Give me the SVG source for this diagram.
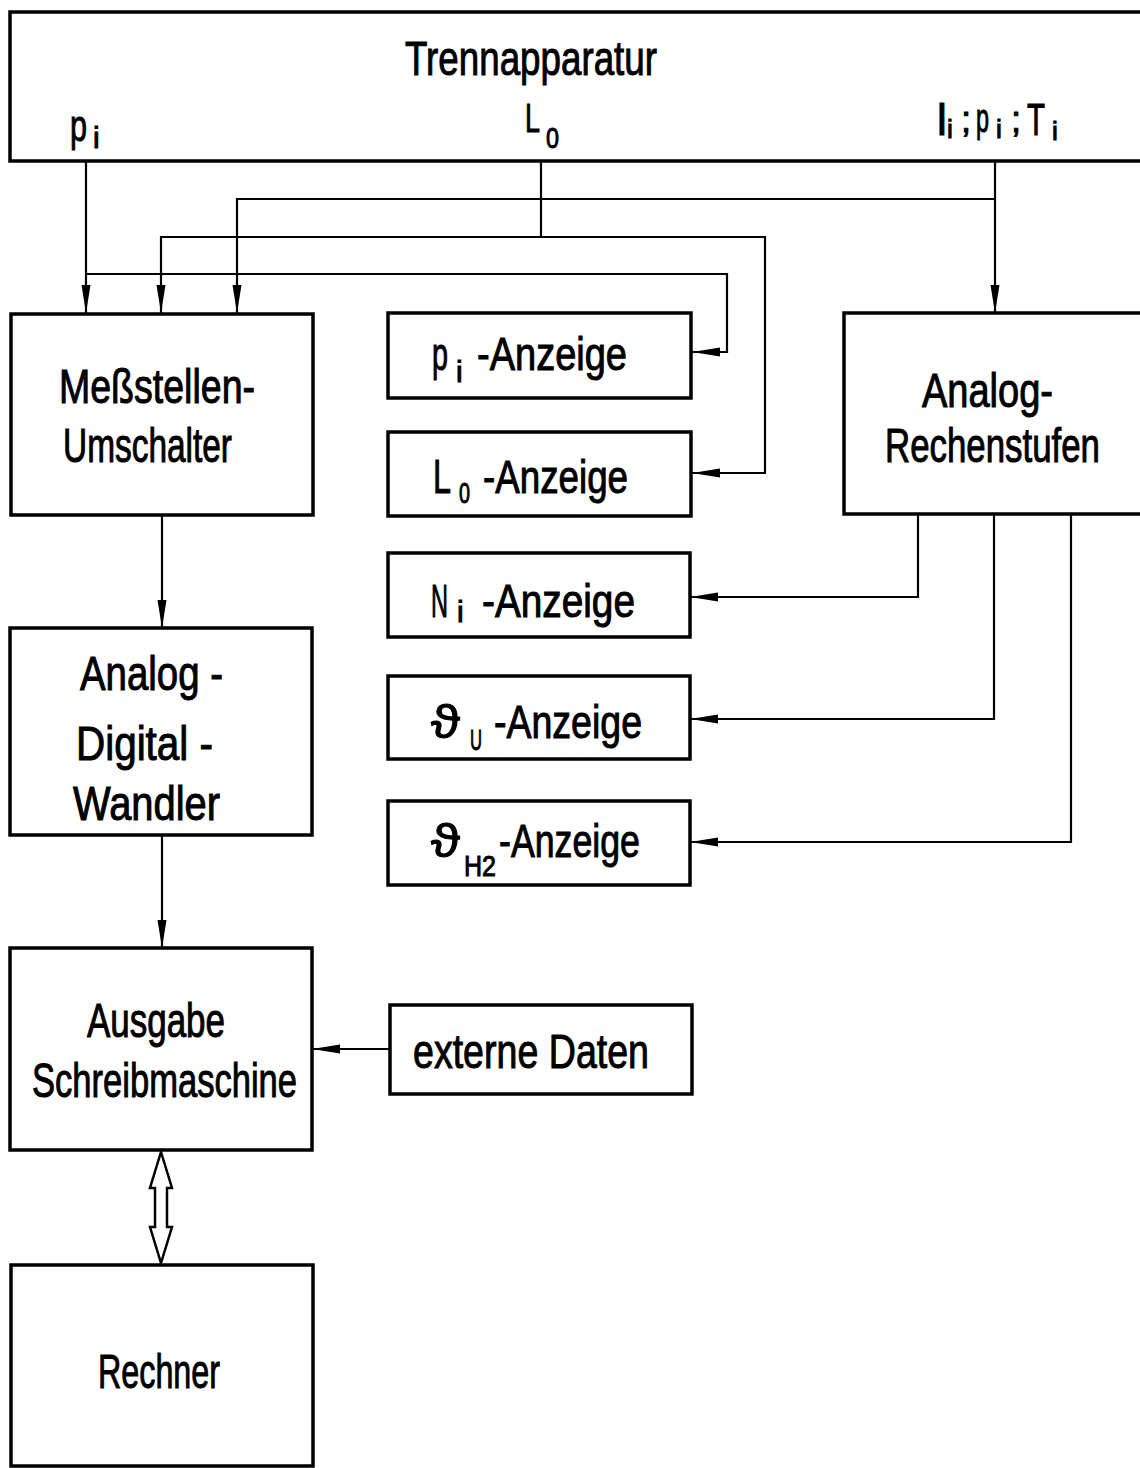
<svg xmlns="http://www.w3.org/2000/svg" width="1140" height="1468" viewBox="0 0 1140 1468">
<style>
  .box { fill: #fff; stroke: #000; stroke-width: 3.5; }
  .ln { fill: none; stroke: #000; stroke-width: 2.2; }
  text { font-family: "Liberation Sans", "DejaVu Sans", Arial, sans-serif; fill: #000; stroke: #000; stroke-width: 1; font-size: 48px; }
  .a { font-size: 46px; }
  .sub { font-size: 30px; }
</style>
<defs>
  <marker id="ah" markerUnits="userSpaceOnUse" markerWidth="30" markerHeight="12" viewBox="0 0 30 12" refX="28" refY="6" orient="auto">
    <path d="M28,6 L0,1.5 L0,10.5 Z" fill="#000"/>
  </marker>
</defs>
<rect width="1140" height="1468" fill="#fff"/>

<g id="trennapparatur">
  <rect class="box" x="10" y="12" width="1132" height="149"/>
  <text x="405" y="75" font-size="50" textLength="252" lengthAdjust="spacingAndGlyphs">Trennapparatur</text>
  <text><tspan x="70" y="141" font-size="44" textLength="17" lengthAdjust="spacingAndGlyphs">p</tspan><tspan x="93" y="148" class="sub">i</tspan></text>
  <text><tspan x="525" y="132" font-size="40" textLength="15" lengthAdjust="spacingAndGlyphs">L</tspan><tspan x="546" y="148" class="sub" textLength="13" lengthAdjust="spacingAndGlyphs">0</tspan></text>
  <text><tspan x="937" y="135" font-size="44">l</tspan><tspan x="947" y="138" font-size="26">i</tspan><tspan x="961" y="132" font-size="36">;</tspan><tspan x="976" y="132" font-size="40" textLength="13" lengthAdjust="spacingAndGlyphs">p</tspan><tspan x="996" y="138" font-size="26">i</tspan><tspan x="1011" y="132" font-size="36">;</tspan><tspan x="1027" y="135" font-size="44" textLength="18" lengthAdjust="spacingAndGlyphs">T</tspan><tspan x="1052" y="140" font-size="26">i</tspan></text>
</g>

<g id="messstellen">
  <rect class="box" x="11" y="314" width="302" height="201"/>
  <text x="59" y="403" textLength="196" lengthAdjust="spacingAndGlyphs">Meßstellen-</text>
  <text x="63" y="462" textLength="169" lengthAdjust="spacingAndGlyphs">Umschalter</text>
</g>

<g id="ad-wandler">
  <rect class="box" x="10" y="628" width="302" height="207"/>
  <text x="80" y="690" textLength="143" lengthAdjust="spacingAndGlyphs">Analog -</text>
  <text x="76" y="760" textLength="137" lengthAdjust="spacingAndGlyphs">Digital -</text>
  <text x="73" y="820" textLength="147" lengthAdjust="spacingAndGlyphs">Wandler</text>
</g>

<g id="ausgabe">
  <rect class="box" x="10" y="948" width="302" height="202"/>
  <text x="87" y="1037" textLength="138" lengthAdjust="spacingAndGlyphs">Ausgabe</text>
  <text x="32" y="1097" textLength="265" lengthAdjust="spacingAndGlyphs">Schreibmaschine</text>
</g>

<g id="rechner">
  <rect class="box" x="11" y="1265" width="302" height="201"/>
  <text x="98" y="1388" textLength="122" lengthAdjust="spacingAndGlyphs">Rechner</text>
</g>

<g id="pi-anzeige">
  <rect class="box" x="388" y="313" width="303" height="85"/>
  <text class="a"><tspan x="432" y="370" textLength="16" lengthAdjust="spacingAndGlyphs">p</tspan><tspan x="456" y="382" class="sub">i </tspan><tspan x="477" y="370" textLength="150" lengthAdjust="spacingAndGlyphs">-Anzeige</tspan></text>
</g>

<g id="l0-anzeige">
  <rect class="box" x="388" y="432" width="303" height="84"/>
  <text class="a"><tspan x="433" y="493" font-size="48" textLength="18" lengthAdjust="spacingAndGlyphs">L</tspan><tspan x="459" y="503" class="sub" textLength="11" lengthAdjust="spacingAndGlyphs">0</tspan><tspan x="483" y="493" textLength="145" lengthAdjust="spacingAndGlyphs">-Anzeige</tspan></text>
</g>

<g id="ni-anzeige">
  <rect class="box" x="388" y="553" width="302" height="84"/>
  <text class="a"><tspan x="431" y="617" textLength="17" lengthAdjust="spacingAndGlyphs">N</tspan><tspan x="457" y="622" class="sub">i </tspan><tspan x="482" y="617" textLength="153" lengthAdjust="spacingAndGlyphs">-Anzeige</tspan></text>
</g>

<g id="thetau-anzeige">
  <rect class="box" x="388" y="676" width="302" height="83"/>
  <text class="a"><tspan x="431" y="738" textLength="29" lengthAdjust="spacingAndGlyphs">ϑ</tspan><tspan x="470" y="750" class="sub" textLength="12" lengthAdjust="spacingAndGlyphs">U</tspan><tspan x="494" y="738" textLength="148" lengthAdjust="spacingAndGlyphs">-Anzeige</tspan></text>
</g>

<g id="thetah2-anzeige">
  <rect class="box" x="388" y="801" width="302" height="84"/>
  <text class="a"><tspan x="431" y="857" textLength="29" lengthAdjust="spacingAndGlyphs">ϑ</tspan><tspan x="464" y="876" class="sub" textLength="32" lengthAdjust="spacingAndGlyphs">H2</tspan><tspan x="499" y="857" textLength="141" lengthAdjust="spacingAndGlyphs">-Anzeige</tspan></text>
</g>

<g id="externe-daten">
  <rect class="box" x="390" y="1005" width="302" height="89"/>
  <text x="413" y="1068" textLength="236" lengthAdjust="spacingAndGlyphs">externe  Daten</text>
</g>

<g id="rechenstufen">
  <rect class="box" x="844" y="313" width="298" height="201"/>
  <text x="922" y="407" textLength="131" lengthAdjust="spacingAndGlyphs">Analog-</text>
  <text x="885" y="462" textLength="215" lengthAdjust="spacingAndGlyphs">Rechenstufen</text>
</g>

<g id="connectors">
  <path class="ln" d="M86,161 V313" marker-end="url(#ah)"/>
  <path class="ln" d="M86,274 H727 V352 H692" marker-end="url(#ah)"/>
  <path class="ln" d="M541,161 V237"/>
  <path class="ln" d="M541,237 H161 V313" marker-end="url(#ah)"/>
  <path class="ln" d="M541,237 H765 V473 H692" marker-end="url(#ah)"/>
  <path class="ln" d="M995,161 V313" marker-end="url(#ah)"/>
  <path class="ln" d="M995,199 H237 V313" marker-end="url(#ah)"/>
  <path class="ln" d="M162,515 V628" marker-end="url(#ah)"/>
  <path class="ln" d="M162,835 V948" marker-end="url(#ah)"/>
  <path class="ln" d="M390,1049 H312" marker-end="url(#ah)"/>
  <path class="ln" d="M918,514 V597 H690" marker-end="url(#ah)"/>
  <path class="ln" d="M994,514 V719 H690" marker-end="url(#ah)"/>
  <path class="ln" d="M1071,514 V842 H690" marker-end="url(#ah)"/>
  <polygon points="161,1152 172,1188 167,1188 167,1227 172,1227 161,1263 150,1227 155,1227 155,1188 150,1188" fill="#fff" stroke="#000" stroke-width="2.5" stroke-linejoin="miter"/>
</g>
</svg>
